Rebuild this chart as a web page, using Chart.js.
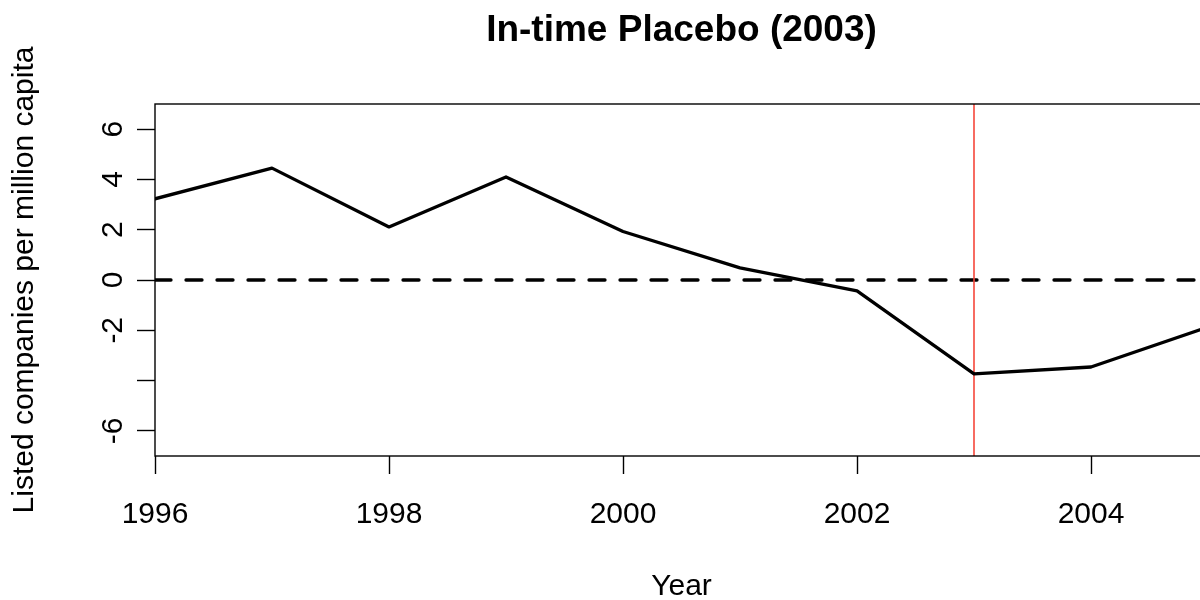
<!DOCTYPE html>
<html>
<head>
<meta charset="utf-8">
<script src="https://cdn.jsdelivr.net/npm/chart.js@4/dist/chart.umd.min.js"></script>
<style>
  html, body { margin: 0; padding: 0; background: #fff; overflow: hidden; }
  #wrap { width: 1362px; height: 600px; }
</style>
</head>
<body>
<div id="wrap"><canvas id="c" width="1362" height="600"></canvas></div>
<script>
// Gap between the treated unit and its synthetic control, per year
const years = [1996, 1997, 1998, 1999, 2000, 2001, 2002, 2003, 2004, 2005];
const gapValues = [3.23, 4.45, 2.11, 4.10, 1.93, 0.48, -0.43, -3.73, -3.46, -1.87];

// Placebo treatment year and the zero reference
const placeboYear = 2003;
const zeroLevel = 0;

// Axis extents and ticks
const xRange = [1996, 2005];
const yRange = [-7, 7];
const xTickValues = [1996, 1998, 2000, 2002, 2004];
const xTickLabels = ['1996', '1998', '2000', '2002', '2004'];
const yTickValues = [-6, -4, -2, 0, 2, 4, 6];
const yTickLabels = ['-6', '', '-2', '0', '2', '4', '6'];

const FONT = '"Liberation Sans", Arial, Helvetica, sans-serif';

// Frame around the plotting region plus rotated y tick labels
const framePlugin = {
  id: 'frame',
  afterDraw(chart) {
    const { ctx, chartArea: a, scales } = chart;
    ctx.save();
    ctx.strokeStyle = '#000';
    ctx.lineWidth = 1.4;
    ctx.strokeRect(a.left, a.top, a.right - a.left, a.bottom - a.top);

    ctx.fillStyle = '#000';
    ctx.font = '30px ' + FONT;
    ctx.textAlign = 'center';
    ctx.textBaseline = 'alphabetic';
    yTickValues.forEach((v, i) => {
      const y = scales.y.getPixelForValue(v);
      ctx.save();
      ctx.translate(122, y);
      ctx.rotate(-Math.PI / 2);
      ctx.fillText(yTickLabels[i], 0, 0);
      ctx.restore();
    });
    ctx.restore();
  }
};

new Chart(document.getElementById('c'), {
  type: 'line',
  data: {
    datasets: [
      {
        label: 'Gap',
        data: years.map((yr, i) => ({ x: yr, y: gapValues[i] })),
        borderColor: '#000',
        borderWidth: 3.3,
        borderJoinStyle: 'round',
        borderCapStyle: 'round',
        pointRadius: 0,
        tension: 0,
        fill: false
      },
      {
        label: 'Placebo year',
        data: [{ x: placeboYear, y: yRange[0] }, { x: placeboYear, y: yRange[1] }],
        borderColor: '#f5473a',
        borderWidth: 1.6,
        pointRadius: 0,
        fill: false
      },
      {
        label: 'Zero',
        data: [{ x: xRange[0], y: zeroLevel }, { x: xRange[1], y: zeroLevel }],
        borderColor: '#000',
        borderWidth: 3.3,
        borderDash: [16, 15],
        borderCapStyle: 'round',
        pointRadius: 0,
        fill: false
      }
    ]
  },
  options: {
    responsive: false,
    animation: false,
    devicePixelRatio: 1,
    layout: { padding: { left: 0, right: 154, top: 0, bottom: 0 } },
    plugins: {
      legend: { display: false },
      tooltip: { enabled: false },
      title: {
        display: true,
        fullSize: false,
        text: 'In-time Placebo (2003)',
        color: '#000',
        font: { family: FONT, size: 37, weight: 'bold', lineHeight: 1.2 },
        padding: { top: 9, bottom: 50.6 }
      }
    },
    scales: {
      x: {
        type: 'linear',
        min: xRange[0],
        max: xRange[1],
        afterBuildTicks: (s) => { s.ticks = xTickValues.map(v => ({ value: v })); },
        afterFit: (s) => { s.height = 144; },
        border: { display: false },
        grid: {
          drawOnChartArea: false,
          drawTicks: true,
          tickLength: 18,
          tickColor: '#000',
          tickWidth: 1.4
        },
        ticks: {
          color: '#000',
          font: { family: FONT, size: 30, lineHeight: 1.2 },
          padding: 23,
          maxRotation: 0,
          autoSkip: false,
          callback: (v) => xTickLabels[xTickValues.indexOf(v)]
        },
        title: {
          display: true,
          text: 'Year',
          color: '#000',
          font: { family: FONT, size: 30, lineHeight: 1.2 },
          padding: { top: 0, bottom: -5 }
        }
      },
      y: {
        type: 'linear',
        min: yRange[0],
        max: yRange[1],
        afterBuildTicks: (s) => { s.ticks = yTickValues.map(v => ({ value: v })); },
        afterFit: (s) => { s.width = 155; },
        border: { display: false },
        grid: {
          drawOnChartArea: false,
          drawTicks: true,
          tickLength: 18,
          tickColor: '#000',
          tickWidth: 1.4
        },
        ticks: { display: false },
        title: {
          display: true,
          text: 'Listed companies per million capita',
          color: '#000',
          font: { family: FONT, size: 30, lineHeight: 1.2 },
          padding: { top: 7, bottom: 0 }
        }
      }
    }
  },
  plugins: [framePlugin]
});
</script>
</body>
</html>
